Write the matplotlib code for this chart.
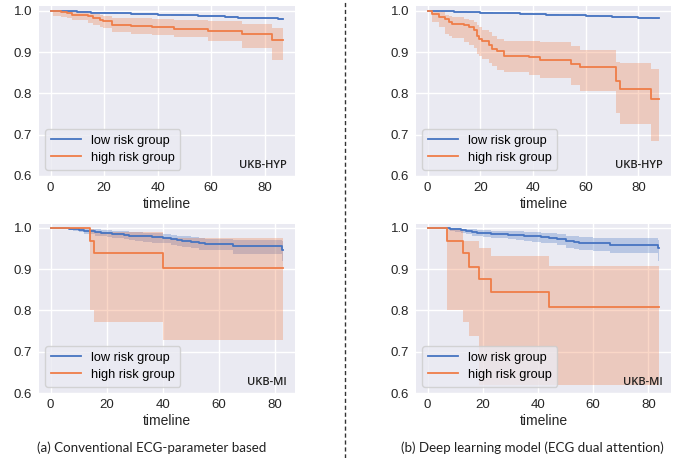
import matplotlib
matplotlib.use("Agg")
import matplotlib.pyplot as plt
from matplotlib.lines import Line2D

# ---------------- data ----------------
# (a) Conventional ECG-parameter based, UKB-HYP
a_hyp_low_t = [0, 5, 10, 15, 20, 25, 30, 35, 40, 45, 50, 55, 60, 65, 70, 75, 80, 85, 87]
a_hyp_low_s = [1.0, 0.999, 0.998, 0.996, 0.995, 0.994, 0.993, 0.992, 0.991, 0.990, 0.989, 0.988, 0.987, 0.986, 0.984, 0.983, 0.982, 0.981, 0.981]
a_hyp_low_up = [1.0, 1.0, 0.999, 0.998, 0.997, 0.996, 0.995, 0.994, 0.993, 0.992, 0.991, 0.990, 0.989, 0.988, 0.986, 0.985, 0.984, 0.983, 0.983]
a_hyp_low_lo = [1.0, 0.998, 0.997, 0.995, 0.993, 0.992, 0.991, 0.990, 0.989, 0.988, 0.987, 0.986, 0.985, 0.984, 0.982, 0.981, 0.980, 0.979, 0.979]
a_hyp_high_t = [0, 1, 4, 6, 8, 14, 16, 18.5, 19.5, 23, 30, 38, 46, 58.7, 71.7, 82.8, 87]
a_hyp_high_s = [1.0, 0.999, 0.998, 0.995, 0.991, 0.987, 0.983, 0.979, 0.975, 0.967, 0.964, 0.961, 0.957, 0.952, 0.943, 0.929, 0.929]
a_hyp_high_up = [1.0, 1.0, 1.0, 1.0, 0.999, 0.996, 0.993, 0.990, 0.987, 0.984, 0.982, 0.980, 0.978, 0.975, 0.969, 0.958, 0.958]
a_hyp_high_lo = [1.0, 0.988, 0.986, 0.983, 0.978, 0.972, 0.967, 0.962, 0.958, 0.948, 0.945, 0.942, 0.937, 0.928, 0.910, 0.880, 0.880]

# (b) Deep learning model, UKB-HYP
b_hyp_low_t = [0, 5, 10, 15, 20, 25, 30, 35, 40, 45, 50, 55, 60, 65, 70, 75, 80, 85, 88]
b_hyp_low_s = [1.0, 0.999, 0.998, 0.997, 0.996, 0.995, 0.994, 0.993, 0.992, 0.991, 0.990, 0.989, 0.988, 0.987, 0.986, 0.985, 0.984, 0.983, 0.983]
b_hyp_low_up = [1.0, 1.0, 0.999, 0.998, 0.997, 0.996, 0.995, 0.994, 0.993, 0.992, 0.991, 0.990, 0.989, 0.988, 0.987, 0.986, 0.985, 0.984, 0.984]
b_hyp_low_lo = [1.0, 0.998, 0.997, 0.996, 0.995, 0.994, 0.993, 0.992, 0.991, 0.990, 0.989, 0.988, 0.987, 0.985, 0.984, 0.983, 0.982, 0.981, 0.981]
b_hyp_high_t = [0, 1.7, 4.2, 6.7, 8, 9.3, 13.7, 15.6, 17.5, 18.8, 19.5, 20.7, 23.2, 24.5, 26.4, 28.9, 38.4, 42.8, 54.3, 58, 71.4, 73.2, 84.7, 88]
b_hyp_high_s = [1.0, 0.993, 0.985, 0.981, 0.973, 0.969, 0.965, 0.960, 0.954, 0.940, 0.933, 0.927, 0.918, 0.908, 0.902, 0.892, 0.888, 0.882, 0.872, 0.863, 0.830, 0.811, 0.787, 0.787]
b_hyp_high_up = [1.0, 1.0, 0.997, 0.989, 0.987, 0.985, 0.981, 0.978, 0.973, 0.965, 0.960, 0.955, 0.948, 0.940, 0.933, 0.927, 0.926, 0.925, 0.915, 0.905, 0.877, 0.874, 0.859, 0.859]
b_hyp_high_lo = [1.0, 0.973, 0.960, 0.945, 0.940, 0.935, 0.925, 0.918, 0.910, 0.896, 0.890, 0.884, 0.875, 0.866, 0.858, 0.852, 0.845, 0.838, 0.820, 0.806, 0.753, 0.726, 0.686, 0.686]

# (a) Conventional ECG-parameter based, UKB-MI
a_mi_low_t = [0, 6.5, 8, 10, 12, 14, 16, 18, 20, 22, 24, 26, 28, 30, 33, 36, 40, 43, 45, 47, 50, 53, 55, 65, 82.5, 83]
a_mi_low_s = [1.0, 0.998, 0.997, 0.995, 0.993, 0.991, 0.989, 0.988, 0.987, 0.986, 0.984, 0.983, 0.981, 0.980, 0.979, 0.977, 0.975, 0.973, 0.970, 0.967, 0.965, 0.962, 0.960, 0.955, 0.947, 0.947]
a_mi_low_up = [1.0, 1.0, 1.0, 0.999, 0.998, 0.997, 0.996, 0.995, 0.994, 0.993, 0.992, 0.991, 0.990, 0.989, 0.988, 0.987, 0.985, 0.983, 0.981, 0.979, 0.977, 0.975, 0.973, 0.970, 0.967, 0.967]
a_mi_low_lo = [1.0, 0.994, 0.992, 0.989, 0.986, 0.984, 0.981, 0.979, 0.978, 0.976, 0.974, 0.972, 0.970, 0.968, 0.966, 0.964, 0.962, 0.959, 0.956, 0.953, 0.950, 0.947, 0.945, 0.937, 0.920, 0.920]
a_mi_high_t = [0, 14.1, 15.3, 40.2, 83]
a_mi_high_s = [1.0, 0.969, 0.938, 0.903, 0.903]
a_mi_high_up = [1.0, 0.998, 0.990, 0.975, 0.975]
a_mi_high_lo = [1.0, 0.800, 0.772, 0.728, 0.728]

# (b) Deep learning model, UKB-MI
b_mi_low_t = [0, 8, 10, 12, 14, 16, 18, 20, 23, 26, 29, 32, 35, 38, 41, 44, 47, 50, 53, 55, 60, 66, 83.5, 84]
b_mi_low_s = [1.0, 0.998, 0.996, 0.994, 0.992, 0.990, 0.988, 0.987, 0.986, 0.985, 0.983, 0.982, 0.981, 0.979, 0.978, 0.976, 0.972, 0.968, 0.965, 0.963, 0.962, 0.958, 0.951, 0.951]
b_mi_low_up = [1.0, 1.0, 0.999, 0.998, 0.997, 0.996, 0.995, 0.994, 0.993, 0.993, 0.992, 0.991, 0.990, 0.989, 0.988, 0.987, 0.984, 0.981, 0.979, 0.977, 0.976, 0.974, 0.970, 0.970]
b_mi_low_lo = [1.0, 0.993, 0.990, 0.987, 0.984, 0.981, 0.979, 0.977, 0.976, 0.975, 0.972, 0.970, 0.968, 0.966, 0.964, 0.962, 0.958, 0.952, 0.948, 0.945, 0.944, 0.938, 0.920, 0.920]
b_mi_high_t = [0, 7.1, 12.8, 14.9, 18.8, 23, 44, 84]
b_mi_high_s = [1.0, 0.969, 0.938, 0.906, 0.875, 0.844, 0.807, 0.807]
b_mi_high_up = [1.0, 0.998, 0.968, 0.968, 0.951, 0.932, 0.908, 0.908]
b_mi_high_lo = [1.0, 0.800, 0.772, 0.737, 0.620, 0.620, 0.620, 0.620]

group_labels = ["low risk group", "high risk group"]
cohort_labels = ["UKB-HYP", "UKB-HYP", "UKB-MI", "UKB-MI"]
captions = ["(a) Conventional ECG-parameter based",
            "(b) Deep learning model (ECG dual attention)"]
x_ticks = [0, 20, 40, 60, 80]
y_ticks = [0.6, 0.7, 0.8, 0.9, 1.0]
x_label = "timeline"

# ---------------- style ----------------
BLUE = "#4674C1"
ORANGE = "#EF7D48"
BG = "#EAEAF2"
plt.rcParams["font.family"] = ["Liberation Sans", "DejaVu Sans"]

fig = plt.figure(figsize=(6.82, 4.58), dpi=100)

W, H = 682.0, 458.0
def ax_rect(x0, y0, x1, y1):
    return [x0 / W, 1 - y1 / H, (x1 - x0) / W, (y1 - y0) / H]

rects = [ax_rect(39, 6, 295, 176), ax_rect(416, 6, 671, 176),
         ax_rect(39, 224, 295, 393), ax_rect(416, 224, 671, 393)]
ytops = [1.012, 1.012, 1.009, 1.009]

panels = [
    (a_hyp_low_t, a_hyp_low_s, a_hyp_low_lo, a_hyp_low_up, a_hyp_high_t, a_hyp_high_s, a_hyp_high_lo, a_hyp_high_up),
    (b_hyp_low_t, b_hyp_low_s, b_hyp_low_lo, b_hyp_low_up, b_hyp_high_t, b_hyp_high_s, b_hyp_high_lo, b_hyp_high_up),
    (a_mi_low_t, a_mi_low_s, a_mi_low_lo, a_mi_low_up, a_mi_high_t, a_mi_high_s, a_mi_high_lo, a_mi_high_up),
    (b_mi_low_t, b_mi_low_s, b_mi_low_lo, b_mi_low_up, b_mi_high_t, b_mi_high_s, b_mi_high_lo, b_mi_high_up),
]

for i, (rect, p) in enumerate(zip(rects, panels)):
    lt, ls, llo, lup, ht, hs, hlo, hup = p
    ax = fig.add_axes(rect)
    ax.set_facecolor(BG)
    for sp in ax.spines.values():
        sp.set_visible(False)
    ax.grid(True, color="white", linewidth=1.0)
    ax.set_axisbelow(True)

    ax.fill_between(lt, llo, lup, step="post", color=BLUE, alpha=0.3, linewidth=0)
    ax.step(lt, ls, where="post", color=BLUE, linewidth=1.3, label=group_labels[0])
    ax.fill_between(ht, hlo, hup, step="post", color=ORANGE, alpha=0.3, linewidth=0)
    ax.step(ht, hs, where="post", color=ORANGE, linewidth=1.3, label=group_labels[1])

    tmax = max(lt[-1], ht[-1])
    ax.set_xlim(-0.05 * tmax, 1.05 * tmax)
    ax.set_ylim(0.6, ytops[i])
    ax.set_xticks(x_ticks)
    ax.set_yticks(y_ticks)
    ax.set_yticklabels([f"{v:.1f}" for v in y_ticks])
    ax.tick_params(axis="both", length=0, labelsize=9.5, colors="#262626")
    ax.tick_params(axis="x", pad=4)
    ax.tick_params(axis="y", pad=5)
    ax.set_xlabel(x_label, fontsize=10, color="#262626", labelpad=2.5)

    leg = ax.legend(loc="lower left", fontsize=9.2, frameon=True, fancybox=True,
                    facecolor=BG, edgecolor="#cccccc", framealpha=0.8,
                    handlelength=2.3, borderpad=0.45, labelspacing=0.4,
                    handletextpad=0.8)
    ax.text(0.966, 0.05, cohort_labels[i], transform=ax.transAxes,
            ha="right", va="baseline", fontsize=8, fontweight="semibold",
            family=["Open Sans", "DejaVu Sans"], color="#222222")

fig.text(152 / W, 1 - 448 / H, captions[0], ha="center", va="center",
         fontsize=9.6, family=["Lato", "DejaVu Sans"], color="#222222")
fig.text(532 / W, 1 - 448 / H, captions[1], ha="center", va="center",
         fontsize=9.6, family=["Lato", "DejaVu Sans"], color="#222222")

fig.add_artist(Line2D([345 / W, 345 / W], [0, 1], transform=fig.transFigure,
                      color="#333333", linewidth=1.0, linestyle=(0, (3, 2))))

fig.savefig("out.png", dpi=100)
